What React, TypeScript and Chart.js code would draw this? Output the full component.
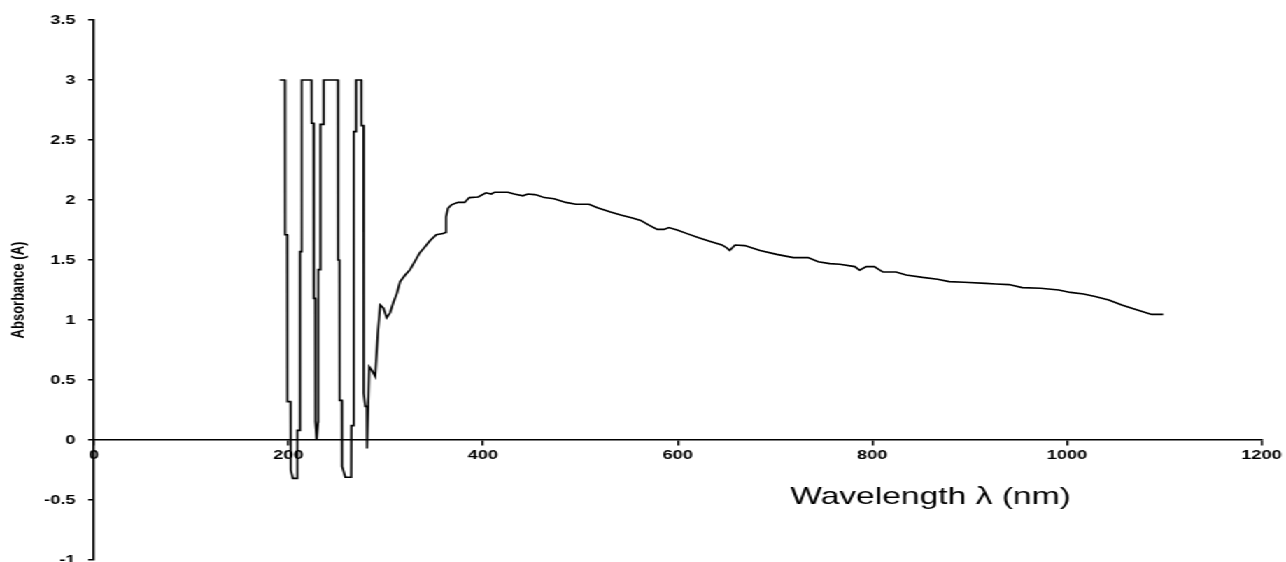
import { useEffect, useRef } from "react";
import { Chart, registerables } from "chart.js";

Chart.register(...registerables);

// Wavelength (nm)
const wavelengths = [
  191.0, 196.4, 196.6, 198.8, 199.0, 202.2, 202.4, 204.6, 209.0, 209.2,
  211.8, 212.0, 213.5, 213.7, 223.7, 223.9, 226.0, 226.2, 227.6, 227.8,
  229.0, 230.5, 230.7, 232.7, 232.9, 236.1, 236.3, 250.9, 251.1, 252.4,
  252.6, 255.0, 255.2, 258.5, 264.5, 264.7, 267.0, 267.2, 269.4, 269.6,
  274.9, 275.1, 277.2, 277.4, 279.0, 280.6, 280.8, 283.1, 285.8, 289.2,
  291.9, 294.3, 297.7, 301.0, 304.5, 308.0, 311.4, 314.8, 320.0, 325.0,
  330.0, 335.0, 340.3, 345.4, 352.0, 359.0, 361.5, 362.0, 364.0, 367.6,
  374.4, 381.0, 386.0, 395.0, 403.0, 408.5, 412.0, 425.6, 432.0, 441.0,
  446.0, 453.0, 456.0, 463.0, 473.0, 485.0, 495.5, 509.0, 517.6, 531.0,
  541.5, 553.5, 562.0, 570.5, 579.0, 586.0, 591.0, 599.5, 609.7, 621.7,
  633.6, 645.5, 650.6, 653.4, 659.0, 669.0, 684.7, 701.8, 718.9, 734.0,
  744.4, 756.3, 766.6, 782.0, 787.0, 793.9, 802.0, 811.0, 824.5, 834.8,
  851.8, 867.0, 879.0, 894.4, 916.6, 926.9, 940.5, 954.0, 972.9, 991.6,
  1003.6, 1017.2, 1029.0, 1043.0, 1056.4, 1070.0, 1087.0, 1099.0,
];

// Absorbance (A)
const absorbance = [
  3.0, 3.0, 1.71, 1.71, 0.32, 0.32, -0.25, -0.32, -0.32, 0.08,
  0.08, 1.57, 1.57, 3.0, 3.0, 2.64, 2.64, 1.18, 1.18, 0.15,
  0.0, 0.15, 1.42, 1.42, 2.63, 2.63, 3.0, 3.0, 1.5, 1.5,
  0.33, 0.33, -0.22, -0.31, -0.31, 0.12, 0.12, 2.57, 2.57, 3.0,
  3.0, 2.62, 2.62, 0.39, 0.28, 0.28, -0.07, 0.61, 0.58, 0.53,
  0.89, 1.125, 1.1, 1.02, 1.06, 1.15, 1.22, 1.32, 1.375, 1.42,
  1.49, 1.56, 1.61, 1.66, 1.71, 1.72, 1.73, 1.86, 1.93, 1.96,
  1.98, 1.98, 2.02, 2.025, 2.06, 2.05, 2.065, 2.065, 2.05, 2.035,
  2.05, 2.045, 2.04, 2.02, 2.01, 1.98, 1.965, 1.965, 1.935, 1.9,
  1.875, 1.85, 1.83, 1.79, 1.755, 1.755, 1.77, 1.75, 1.72, 1.686,
  1.655, 1.625, 1.6, 1.58, 1.625, 1.62, 1.58, 1.547, 1.52, 1.52,
  1.486, 1.47, 1.465, 1.445, 1.415, 1.445, 1.445, 1.4, 1.4, 1.375,
  1.355, 1.34, 1.32, 1.315, 1.305, 1.3, 1.295, 1.27, 1.264, 1.25,
  1.23, 1.217, 1.195, 1.167, 1.125, 1.09, 1.047, 1.047,
];

const xTickValues = [0, 200, 400, 600, 800, 1000, 1200];
const yTickValues = [-1, -0.5, 0, 0.5, 1, 1.5, 2, 2.5, 3, 3.5];
const xTitle = "Wavelength λ (nm)";
const yTitle = "Absorbance (A)";

const FONT = '"Liberation Sans", Arial, sans-serif';
const CANVAS_W = 919;
const CANVAS_H = 562;
const STRETCH = 1286 / CANVAS_W;

const xTitlePlugin = {
  id: "xTitlePlugin",
  afterDraw(chart: any) {
    const { ctx, chartArea } = chart;
    ctx.save();
    ctx.font = `24px ${FONT}`;
    ctx.fillStyle = "#000";
    ctx.textAlign = "center";
    ctx.textBaseline = "middle";
    const x = chartArea.left + chartArea.width * 0.7165;
    ctx.fillText(xTitle, x, 497);
    ctx.restore();
  },
};

export default function App() {
  const canvasRef = useRef<HTMLCanvasElement | null>(null);

  useEffect(() => {
    if (!canvasRef.current) return;
    const points = wavelengths.map((w, i) => ({ x: w, y: absorbance[i] }));
    const chart = new Chart(canvasRef.current, {
      type: "line",
      data: {
        datasets: [
          {
            data: points,
            borderColor: "#000",
            borderWidth: 1.6,
            pointRadius: 0,
            tension: 0,
            fill: false,
          },
        ],
      },
      options: {
        animation: false,
        responsive: false,
        maintainAspectRatio: false,
        devicePixelRatio: 1,
        layout: { padding: { left: 0, right: 14, top: 20, bottom: 2 } },
        plugins: { legend: { display: false }, tooltip: { enabled: false } },
        scales: {
          x: {
            type: "linear",
            min: 0,
            max: 1200,
            position: { y: 0 } as any,
            afterBuildTicks: (s: any) => {
              s.ticks = xTickValues.map((value) => ({ value }));
            },
            afterFit: (s: any) => {
              s.paddingTop = 0;
              s.paddingBottom = 0;
            },
            ticks: {
              callback: (v: any) => String(v),
              font: { size: 13, family: FONT, weight: "bold" },
              color: "#000",
              padding: 3,
              maxRotation: 0,
              autoSkip: false,
            },
            grid: {
              display: true,
              drawOnChartArea: false,
              drawTicks: true,
              tickLength: 5,
              color: "#000",
              lineWidth: 1.5,
            },
            border: { display: true, color: "#000", width: 1.5 },
          },
          y: {
            type: "linear",
            min: -1,
            max: 3.5,
            afterBuildTicks: (s: any) => {
              s.ticks = yTickValues.map((value) => ({ value }));
            },
            afterFit: (s: any) => {
              s.width = 67;
              s.paddingTop = 0;
              s.paddingBottom = 0;
            },
            ticks: {
              callback: (v: any) => String(v),
              font: { size: 13, family: FONT, weight: "bold" },
              color: "#000",
              padding: 9,
              autoSkip: false,
            },
            grid: {
              display: true,
              drawOnChartArea: false,
              drawTicks: true,
              tickLength: 4,
              color: "#000",
              lineWidth: 1.5,
            },
            border: { display: true, color: "#000", width: 1.6 },
            title: {
              display: true,
              text: yTitle,
              color: "#000",
              font: { size: 13, family: FONT, weight: "bold" },
              padding: { top: 6, bottom: 0 },
            },
          },
        },
      },
      plugins: [xTitlePlugin],
    });
    return () => chart.destroy();
  }, []);

  return (
    <div
      style={{
        position: "fixed",
        left: 0,
        top: 0,
        width: CANVAS_W,
        height: CANVAS_H,
        transform: `scaleX(${STRETCH})`,
        transformOrigin: "0 0",
        background: "#fff",
      }}
    >
      <canvas ref={canvasRef} width={CANVAS_W} height={CANVAS_H} />
    </div>
  );
}
